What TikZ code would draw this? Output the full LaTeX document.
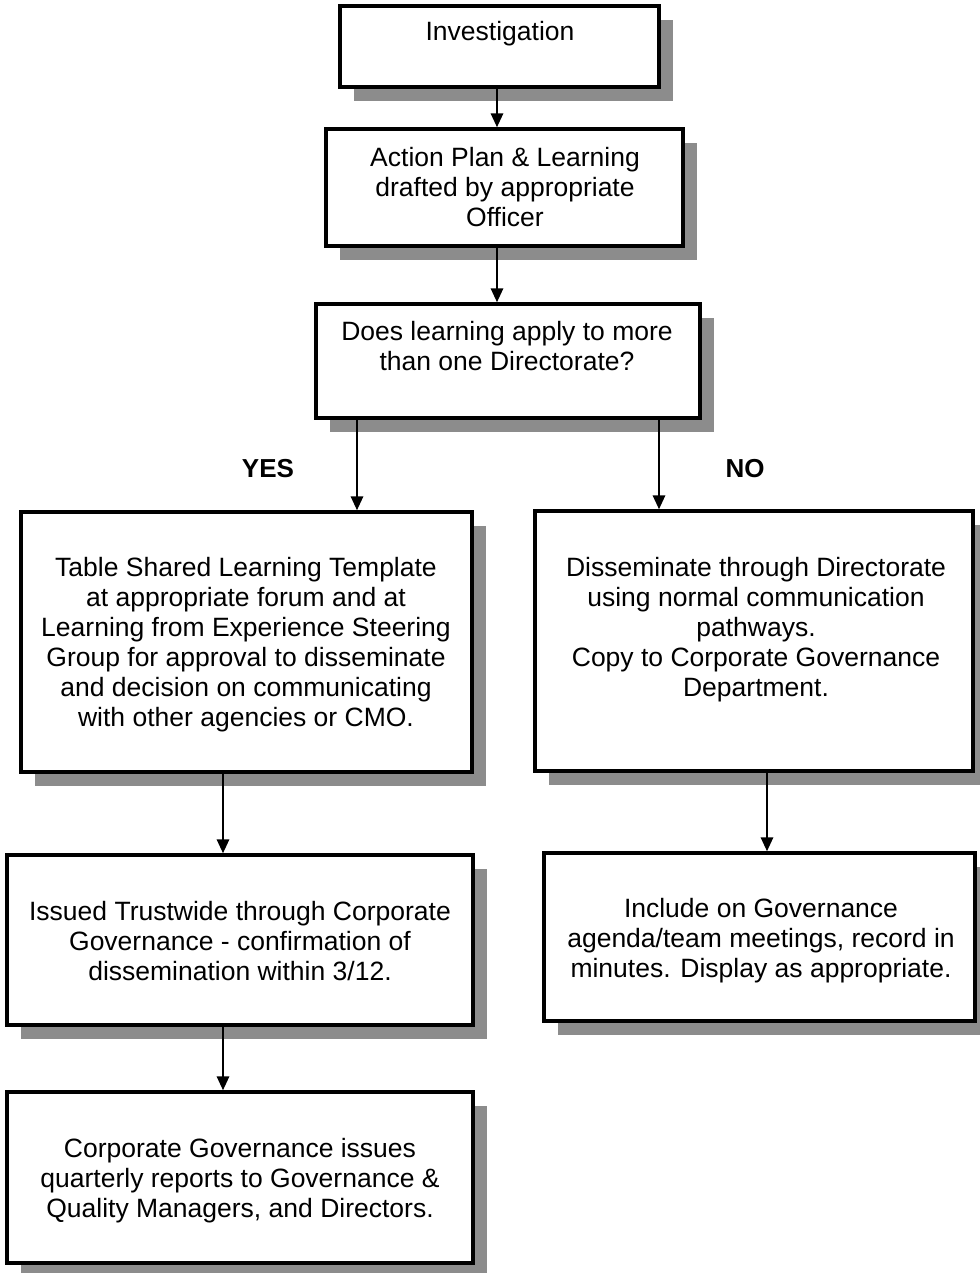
\documentclass[tikz,border=0pt]{standalone}
\usepackage{fontspec}
\setmainfont{Liberation Sans}
\usetikzlibrary{arrows.meta,shadows}
\begin{document}
\begin{tikzpicture}[x=1pt,y=-1pt,
  box/.style={draw=black, line width=3.2pt, fill=white, inner sep=0pt,
    drop shadow={shadow xshift=14pt, shadow yshift=-14pt, fill=black!45, opacity=1}},
  txt/.style={inner sep=0pt, align=center, font=\fontsize{26.5}{30}\selectfont},
  lbl/.style={inner sep=0pt, font=\fontsize{26}{30}\selectfont\bfseries},
  arr/.style={line width=2.8pt, -{Triangle[width=12pt,length=14pt]}}]
\useasboundingbox[fill=white] (0,0) rectangle (979,1273);

% boxes
\node[box, minimum width=319, minimum height=81] (inv) at (499.5,46.5) {};
\node[box, minimum width=357, minimum height=117] (act) at (504.5,187.5) {};
\node[box, minimum width=384, minimum height=114] (does) at (508,361) {};
\node[box, minimum width=451, minimum height=260] (table) at (246.5,642) {};
\node[box, minimum width=438, minimum height=260] (diss) at (754,641) {};
\node[box, minimum width=466, minimum height=170] (issued) at (240,940) {};
\node[box, minimum width=466, minimum height=171] (corp) at (240,1177.5) {};
\node[box, minimum width=431, minimum height=168] (incl) at (759.5,937) {};

% box texts
\node[txt] (invt) at (500,34) {Investigation};
\node[txt] (actt) at (505,187.5) {Action Plan \& Learning\\drafted by appropriate\\Officer};
\node[txt] (doest) at (507,346) {Does learning apply to more\\than one Directorate?};
\node[txt] (tablet) at (246,644.5) {Table Shared Learning Template\\at appropriate forum and at\\Learning from Experience Steering\\Group for approval to disseminate\\and decision on communicating\\with other agencies or CMO.};
\node[txt] (disst) at (756,629.5) {Disseminate through Directorate\\using normal communication\\pathways.\\Copy to Corporate Governance\\Department.};
\node[txt] (issuedt) at (240,941) {Issued Trustwide through Corporate\\Governance - confirmation of\\dissemination within 3/12.};
\node[txt] (corpt) at (240,1180.5) {Corporate Governance issues\\quarterly reports to Governance \&\\Quality Managers, and Directors.};
\node[txt] (inclt) at (761,940.5) {Include on Governance\\agenda/team meetings, record in\\minutes. Display as appropriate.};

% branch labels
\node[lbl] (yes) at (268,469) {YES};
\node[lbl] (no) at (745,469) {NO};

% connectors
\draw[arr] ([xshift=-2.5pt]inv.south) -- ([xshift=-7.5pt]act.north);
\draw[arr] ([xshift=-7.5pt]act.south) -- ([xshift=-11pt]does.north);
\draw[arr] ([xshift=-151pt]does.south) -- ([xshift=110.5pt]table.north);
\draw[arr] ([xshift=151pt]does.south) -- ([xshift=-95pt]diss.north);
\draw[arr] ([xshift=-23.5pt]table.south) -- ([xshift=-17pt]issued.north);
\draw[arr] ([xshift=-17pt]issued.south) -- ([xshift=-17pt]corp.north);
\draw[arr] ([xshift=13pt]diss.south) -- ([xshift=7.5pt]incl.north);
\end{tikzpicture}
\end{document}
